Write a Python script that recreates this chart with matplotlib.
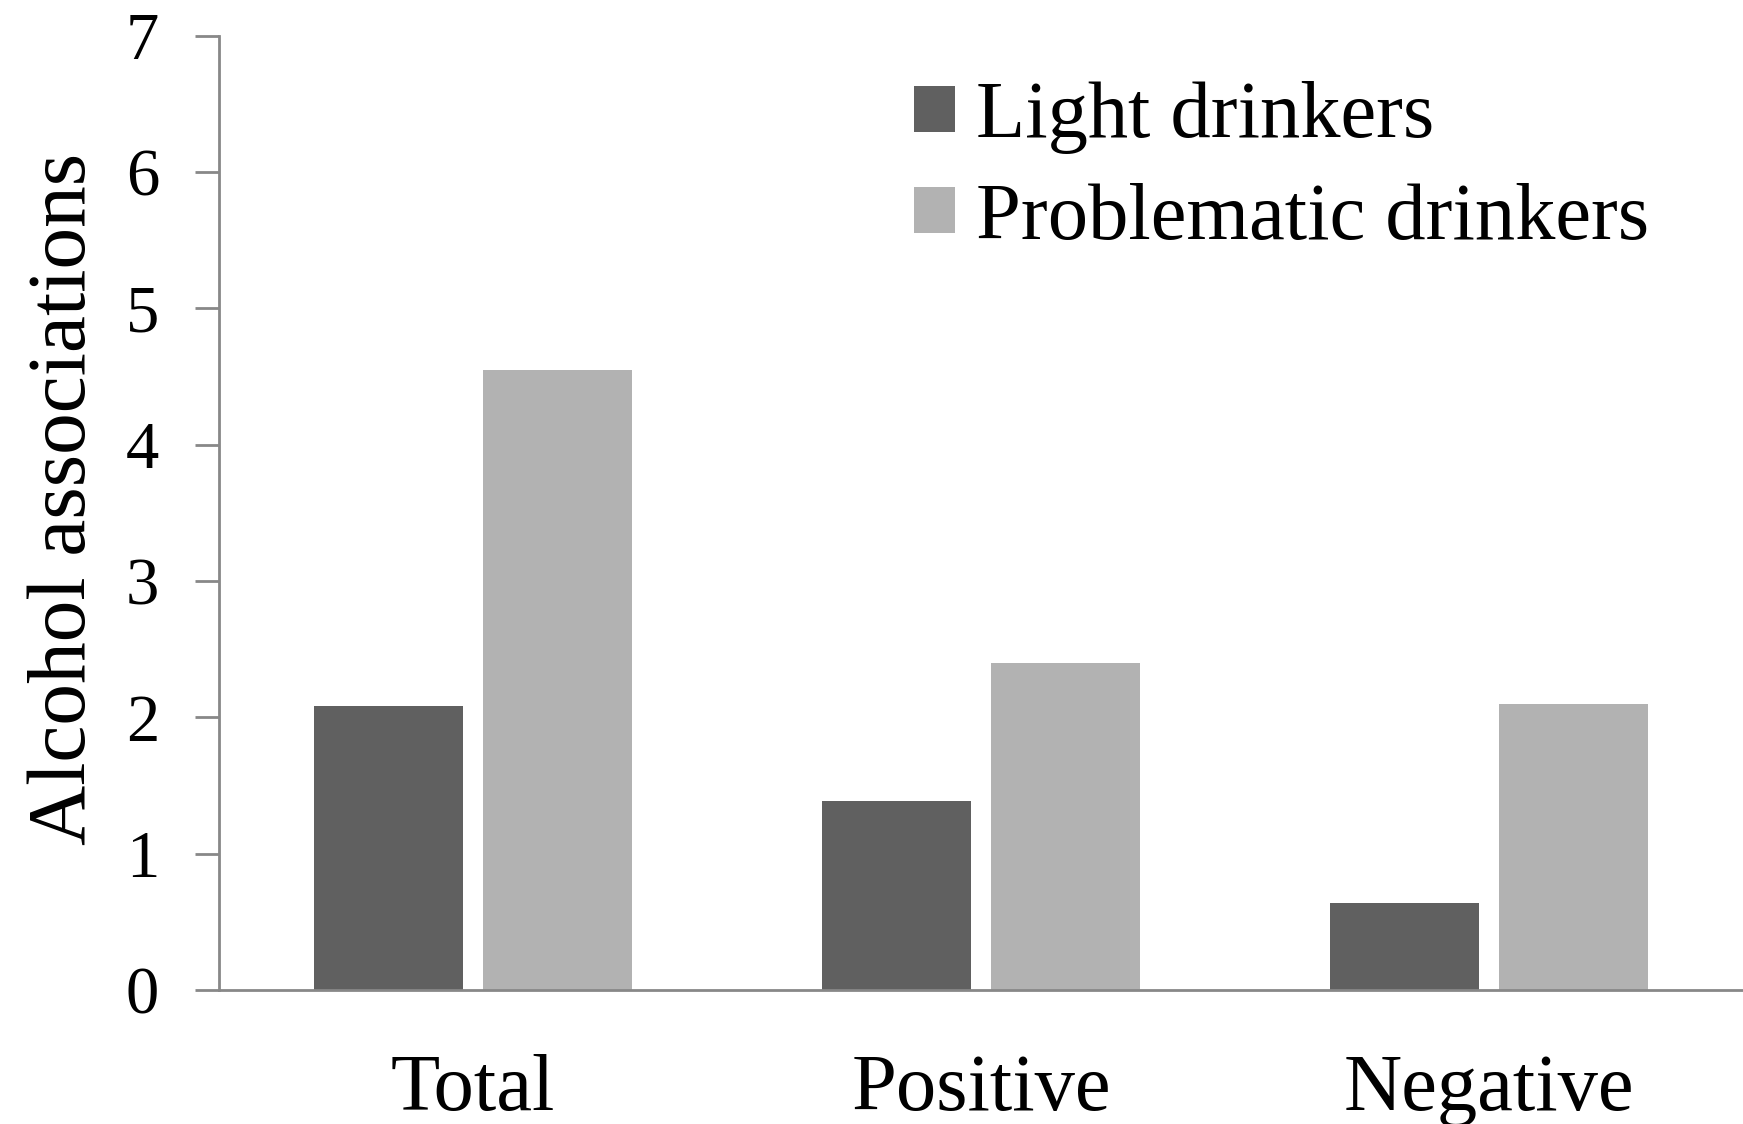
import matplotlib.pyplot as plt
import numpy as np

# data
categories = ["Total", "Positive", "Negative"]
light = [2.08, 1.39, 0.64]
problematic = [4.55, 2.40, 2.10]
series_names = ["Light drinkers", "Problematic drinkers"]
yticks = [0, 1, 2, 3, 4, 5, 6, 7]

plt.rcParams['font.family'] = ['Liberation Serif', 'DejaVu Serif']

fig = plt.figure(figsize=(17.43, 11.24), dpi=100)
ax = fig.add_axes([0.1256, 0.1192, 0.8744, 0.8491])

x = np.arange(len(categories))
w = 0.293
ax.bar(x - 0.167, light, w, color="#606060", label=series_names[0])
ax.bar(x + 0.167, problematic, w, color="#b2b2b2", label=series_names[1])

ax.set_xlim(-0.5, 2.5)
ax.set_ylim(0, 7)
ax.set_yticks(yticks)
ax.set_xticks(x)
ax.set_xticklabels(categories, fontsize=58)

#spines
for s in ["top", "right"]:
    ax.spines[s].set_visible(False)
for s in ["left", "bottom"]:
    ax.spines[s].set_color("#888888")
    ax.spines[s].set_linewidth(2)

ax.tick_params(axis="y", length=17, width=2, color="#888888", labelsize=48, pad=26)
ax.tick_params(axis="x", length=0, pad=46)

ax.set_ylabel("Alcohol associations", fontsize=60)
ax.yaxis.set_label_coords(-0.076, 0.515)

ax.legend(loc="upper left", bbox_to_anchor=(0.456, 0.952), frameon=False, fontsize=58,
          borderpad=0, borderaxespad=0,
          handlelength=0.51, handleheight=0.51, handletextpad=0.26, labelspacing=0.35)

plt.savefig("out.png")
